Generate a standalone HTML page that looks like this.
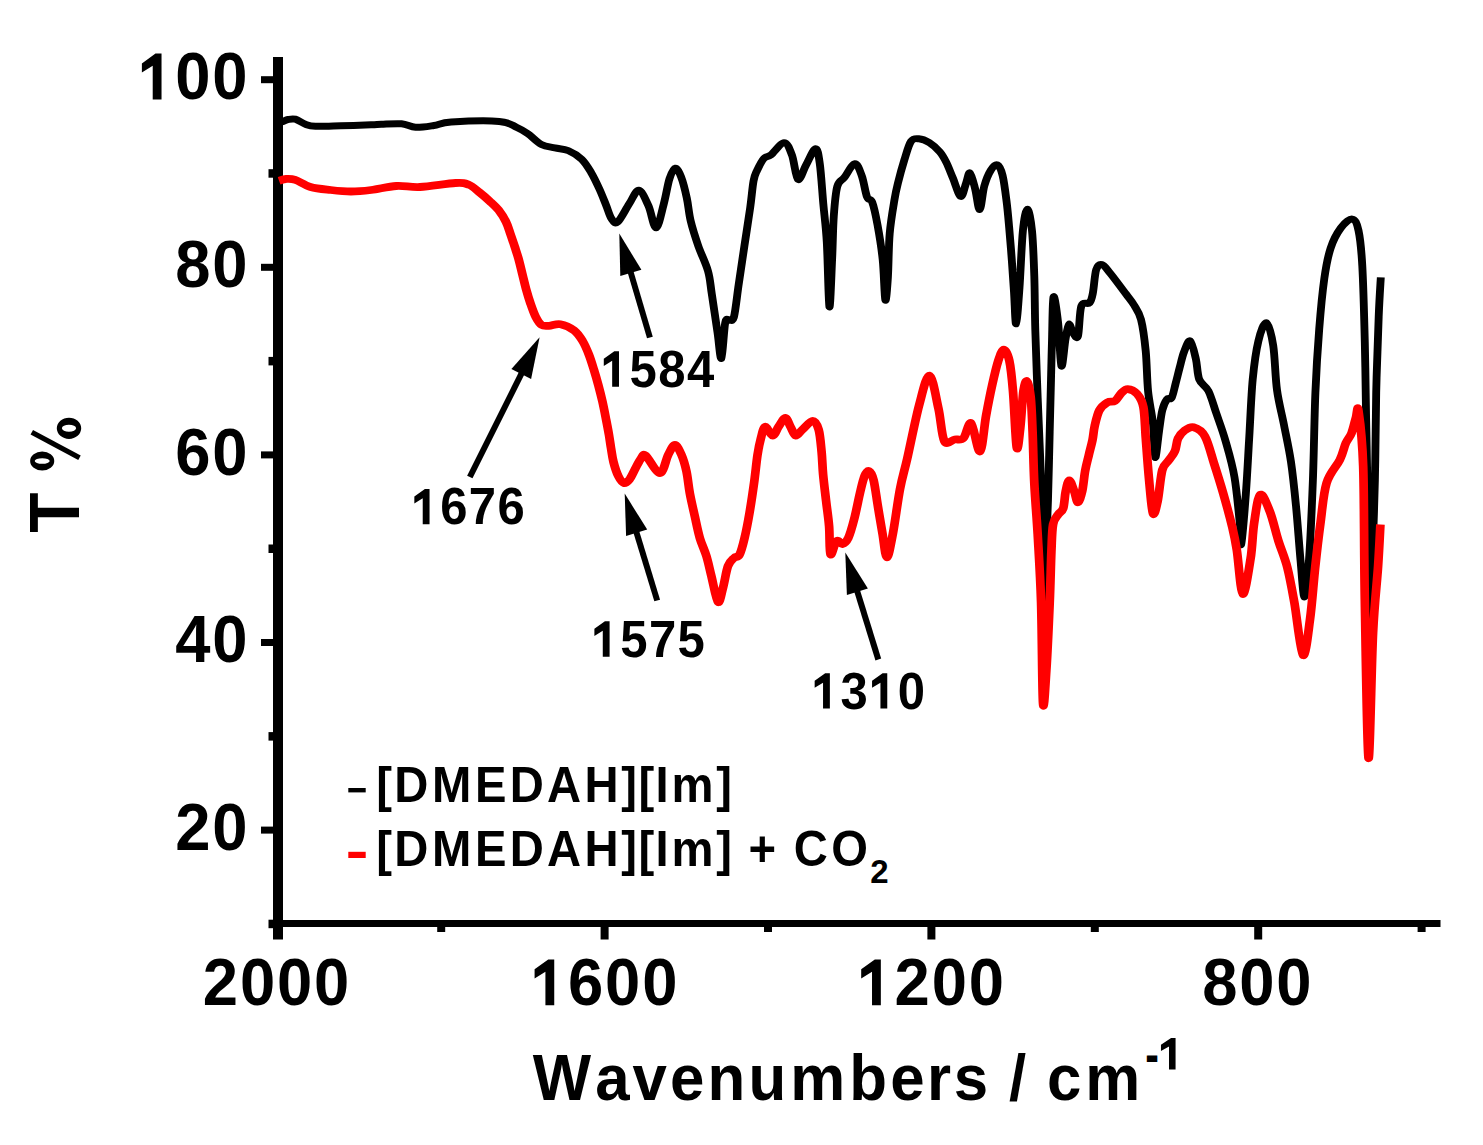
<!DOCTYPE html>
<html><head><meta charset="utf-8"><title>IR spectra</title>
<style>html,body{margin:0;padding:0;background:#fff;width:1483px;height:1145px;overflow:hidden}
svg{display:block}</style></head>
<body><svg width="1483" height="1145" viewBox="0 0 1483 1145">
<rect width="1483" height="1145" fill="#fff"/>
<rect x="273" y="57" width="10" height="882.5" fill="#000"/>
<rect x="273" y="920" width="1167.5" height="7" fill="#000"/>
<rect x="261" y="76.2" width="12" height="7" fill="#000"/>
<rect x="261" y="263.8" width="12" height="7" fill="#000"/>
<rect x="261" y="451.4" width="12" height="7" fill="#000"/>
<rect x="261" y="639.0" width="12" height="7" fill="#000"/>
<rect x="261" y="826.6" width="12" height="7" fill="#000"/>
<rect x="268.5" y="169.2" width="4.5" height="8.5" fill="#000"/>
<rect x="268.5" y="356.9" width="4.5" height="8.5" fill="#000"/>
<rect x="268.5" y="544.5" width="4.5" height="8.5" fill="#000"/>
<rect x="268.5" y="732.1" width="4.5" height="8.5" fill="#000"/>
<rect x="268.5" y="919.7" width="4.5" height="8.5" fill="#000"/>
<rect x="600.6" y="927" width="8" height="12.5" fill="#000"/>
<rect x="927.4" y="927" width="8" height="12.5" fill="#000"/>
<rect x="1254.2" y="927" width="8" height="12.5" fill="#000"/>
<rect x="437.2" y="927" width="8" height="5" fill="#000"/>
<rect x="764.0" y="927" width="8" height="5" fill="#000"/>
<rect x="1090.8" y="927" width="8" height="5" fill="#000"/>
<rect x="1417.6" y="927" width="8" height="5" fill="#000"/>
<text transform="scale(0.9596,1)" x="182.64 221.30" y="99.40" font-size="66.03" fill="#000" font-family="Liberation Sans" font-weight="bold">00</text><path transform="translate(138.17,99.40) scale(0.03094,-0.03224)" d="M470,0H755V1420H560L120,1117V834L470,1040Z" fill="#000"/>
<text transform="scale(0.9596,1)" x="182.64 221.30" y="287.00" font-size="66.03" fill="#000" font-family="Liberation Sans" font-weight="bold">80</text>
<text transform="scale(0.9596,1)" x="182.64 221.30" y="474.60" font-size="66.03" fill="#000" font-family="Liberation Sans" font-weight="bold">60</text>
<text transform="scale(0.9596,1)" x="182.64 221.30" y="662.20" font-size="66.03" fill="#000" font-family="Liberation Sans" font-weight="bold">40</text>
<text transform="scale(0.9596,1)" x="182.64 221.30" y="849.80" font-size="66.03" fill="#000" font-family="Liberation Sans" font-weight="bold">20</text>
<text transform="scale(0.9596,1)" x="211.38 250.04 288.69 327.35" y="1005.30" font-size="66.03" fill="#000" font-family="Liberation Sans" font-weight="bold">2000</text>
<text transform="scale(0.9596,1)" x="591.89 630.55 669.20" y="1005.30" font-size="66.03" fill="#000" font-family="Liberation Sans" font-weight="bold">600</text><path transform="translate(530.88,1005.30) scale(0.03094,-0.03224)" d="M470,0H755V1420H560L120,1117V834L470,1040Z" fill="#000"/>
<text transform="scale(0.9596,1)" x="932.24 970.90 1009.56" y="1005.30" font-size="66.03" fill="#000" font-family="Liberation Sans" font-weight="bold">200</text><path transform="translate(857.48,1005.30) scale(0.03094,-0.03224)" d="M470,0H755V1420H560L120,1117V834L470,1040Z" fill="#000"/>
<text transform="scale(0.9596,1)" x="1252.80 1291.45 1330.11" y="1005.30" font-size="66.03" fill="#000" font-family="Liberation Sans" font-weight="bold">800</text>
<text transform="translate(79,532.8) rotate(-90) scale(1,1.07)" font-size="66" font-family="Liberation Sans" font-weight="bold">T</text>
<path d="M81.2,428.3a12.2,10.65 0 1,0 -24.4,0a12.2,10.65 0 1,0 24.4,0ZM76.1,428.3a7.1,3.45 0 1,1 -14.2,0a7.1,3.45 0 1,1 14.2,0Z" fill="#000" fill-rule="evenodd"/>
<path d="M54.25,461a12.05,9.55 0 1,0 -24.1,0a12.05,9.55 0 1,0 24.1,0ZM49.7,461a7.5,2.85 0 1,1 -15,0a7.5,2.85 0 1,1 15,0Z" fill="#000" fill-rule="evenodd"/>
<line x1="31.8" y1="432.2" x2="79.5" y2="457.7" stroke="#000" stroke-width="5.2"/>
<text transform="scale(0.9534,1)" x="558.80 624.23 663.43 702.64 741.99 785.05 828.89 890.78 933.68 972.41 1000.31 1058.31 1098.27 1138.41" y="1100.20" font-size="64.85" fill="#000" font-family="Liberation Sans" font-weight="bold">Wavenumbers/cm</text>
<text transform="translate(1145.2,1072.9) scale(1,1.3)" font-size="41" font-family="Liberation Sans" font-weight="bold">-</text>
<path transform="translate(1158.2,1069.4) scale(0.0230,-0.0221)" d="M470,0H755V1420H560L120,1117V834L470,1040Z" fill="#000"/>
<text transform="scale(0.9596,1)" x="656.13 686.03 715.94" y="386.70" font-size="51.08" fill="#000" font-family="Liberation Sans" font-weight="bold">584</text><path transform="translate(600.92,386.70) scale(0.02394,-0.02494)" d="M470,0H755V1420H560L120,1117V834L470,1040Z" fill="#000"/>
<text transform="scale(0.9596,1)" x="458.70 488.61 518.51" y="524.30" font-size="51.08" fill="#000" font-family="Liberation Sans" font-weight="bold">676</text><path transform="translate(411.47,524.30) scale(0.02394,-0.02494)" d="M470,0H755V1420H560L120,1117V834L470,1040Z" fill="#000"/>
<text transform="scale(0.9596,1)" x="646.33 676.24 706.14" y="656.70" font-size="51.08" fill="#000" font-family="Liberation Sans" font-weight="bold">575</text><path transform="translate(591.52,656.70) scale(0.02394,-0.02494)" d="M470,0H755V1420H560L120,1117V834L470,1040Z" fill="#000"/>
<text transform="scale(0.9596,1)" x="875.88 935.69" y="708.60" font-size="51.08" fill="#000" font-family="Liberation Sans" font-weight="bold">30</text><path transform="translate(811.79,708.60) scale(0.02394,-0.02494)" d="M470,0H755V1420H560L120,1117V834L470,1040Z" fill="#000"/><path transform="translate(869.19,708.60) scale(0.02394,-0.02494)" d="M470,0H755V1420H560L120,1117V834L470,1040Z" fill="#000"/>
<line x1="630.3" y1="271.0" x2="649.9" y2="337.5" stroke="#000" stroke-width="6.0"/><polygon points="619.3,233.6 620.3,276.0 641.4,269.8" fill="#000"/>
<line x1="522.2" y1="372.2" x2="469.8" y2="477.0" stroke="#000" stroke-width="6.0"/><polygon points="539.6,337.3 511.4,369.1 531.1,378.9" fill="#000"/>
<line x1="636.0" y1="530.9" x2="657.2" y2="600.5" stroke="#000" stroke-width="6.0"/><polygon points="624.7,493.6 626.1,536.0 647.2,529.6" fill="#000"/>
<line x1="856.8" y1="589.8" x2="878.3" y2="659.5" stroke="#000" stroke-width="6.0"/><polygon points="845.3,552.5 846.9,594.9 867.9,588.4" fill="#000"/>
<rect x="348.3" y="788" width="17.4" height="4.4" fill="#000"/>
<rect x="348.3" y="851.8" width="17.4" height="6.2" fill="#ff0000"/>
<text transform="scale(0.9381,1)" x="400.95 420.34 460.57 506.24 543.28 583.23 623.18 662.16 680.58 698.87 715.76 763.57" y="801.70" font-size="50.34" fill="#000" font-family="Liberation Sans" font-weight="bold">[DMEDAH][Im]</text>
<text transform="scale(0.9381,1)" x="400.95 420.34 460.57 506.24 543.28 583.23 623.18 662.16 680.58 698.87 715.76 763.57 797.98 846.01 886.10" y="865.80" font-size="50.34" fill="#000" font-family="Liberation Sans" font-weight="bold">[DMEDAH][Im]+CO</text>
<text x="870.3" y="882.8" font-size="33" font-family="Liberation Sans" font-weight="bold">2</text>
<g transform="scale(1.1200,1)" fill="none" stroke-linejoin="round" stroke-linecap="butt">
<path d="M246.43,121.50C247.32,121.53 250.00,122.03 251.79,121.70C253.57,121.37 255.16,119.92 257.14,119.50C259.12,119.08 261.07,118.40 263.66,119.20C266.25,120.00 269.67,123.12 272.68,124.30C275.68,125.48 276.43,126.05 281.70,126.30C286.96,126.55 296.01,126.05 304.29,125.80C312.56,125.55 325.31,125.05 331.34,124.80C337.37,124.55 335.92,124.47 340.45,124.30C344.97,124.13 353.38,123.30 358.48,123.80C363.59,124.30 366.26,127.02 371.07,127.30C375.88,127.58 382.02,126.38 387.32,125.50C392.62,124.62 393.11,122.68 402.86,122.00C412.60,121.32 436.06,120.52 445.80,121.40C455.55,122.28 457.08,125.25 461.34,127.30C465.60,129.35 467.66,130.83 471.34,133.70C475.01,136.57 479.37,142.13 483.39,144.50C487.41,146.87 491.44,146.88 495.45,147.90C499.45,148.92 503.41,148.70 507.41,150.60C511.41,152.50 516.04,155.60 519.46,159.30C522.89,163.00 525.33,167.85 527.95,172.80C530.57,177.75 532.98,183.60 535.18,189.00C537.38,194.40 539.36,200.25 541.16,205.20C542.96,210.15 544.26,215.90 545.98,218.70C547.71,221.50 548.88,224.48 551.52,222.00C554.15,219.52 558.65,209.08 561.79,203.80C564.93,198.52 567.50,189.98 570.36,190.30C573.21,190.62 576.35,199.45 578.93,205.70C581.50,211.95 583.51,228.12 585.80,227.80C588.10,227.48 590.68,211.97 592.68,203.80C594.67,195.63 596.06,184.73 597.77,178.80C599.48,172.87 601.22,168.52 602.95,168.20C604.67,167.88 606.41,171.93 608.12,176.90C609.84,181.87 611.79,190.63 613.21,198.00C614.64,205.37 614.99,213.10 616.70,221.10C618.41,229.10 620.91,237.68 623.48,246.00C626.06,254.32 630.13,263.00 632.14,271.00C634.15,279.00 634.12,283.77 635.54,294.00C636.95,304.23 639.20,321.67 640.62,332.40C642.05,343.13 642.96,360.00 644.11,358.40C645.25,356.80 646.35,329.20 647.50,322.80C648.65,316.40 649.69,320.95 650.98,320.00C652.28,319.05 653.84,323.03 655.27,317.10C656.70,311.17 657.99,296.25 659.55,284.40C661.12,272.55 662.93,258.80 664.64,246.00C666.35,233.20 668.47,218.42 669.82,207.60C671.18,196.78 671.76,187.27 672.77,181.10C673.78,174.93 674.33,174.38 675.89,170.60C677.46,166.82 680.06,161.02 682.14,158.40C684.23,155.78 685.42,157.52 688.39,154.90C691.37,152.28 696.89,142.70 700.00,142.70C703.11,142.70 704.97,148.78 707.05,154.90C709.14,161.02 710.42,177.65 712.50,179.40C714.58,181.15 716.95,170.50 719.55,165.40C722.16,160.30 726.06,149.08 728.12,148.80C730.19,148.52 730.80,154.53 731.96,163.70C733.12,172.87 734.05,190.72 735.09,203.80C736.13,216.88 737.31,225.03 738.21,242.20C739.12,259.37 739.75,303.88 740.54,306.80C741.32,309.72 742.29,274.83 742.95,259.70C743.60,244.57 743.69,228.22 744.46,216.00C745.24,203.78 746.03,192.80 747.59,186.40C749.15,180.00 751.24,181.38 753.84,177.60C756.44,173.82 760.61,163.98 763.21,163.70C765.82,163.42 767.65,170.38 769.46,175.90C771.28,181.42 772.56,192.43 774.11,196.80C775.65,201.17 777.19,197.43 778.75,202.10C780.31,206.77 781.92,215.20 783.48,224.80C785.04,234.40 786.96,247.18 788.12,259.70C789.29,272.22 789.67,296.98 790.45,299.90C791.22,302.82 792.11,288.27 792.77,277.20C793.42,266.13 793.38,246.53 794.38,233.50C795.37,220.47 797.53,207.37 798.75,199.00C799.97,190.63 800.24,189.83 801.70,183.30C803.15,176.77 805.55,166.78 807.50,159.80C809.45,152.82 811.25,144.90 813.39,141.40C815.54,137.90 817.63,138.58 820.36,138.80C823.08,139.02 826.61,140.52 829.73,142.70C832.86,144.88 836.58,148.62 839.11,151.90C841.64,155.18 842.96,158.03 844.91,162.40C846.86,166.77 848.66,172.43 850.80,178.10C852.95,183.77 855.82,195.53 857.77,196.40C859.72,197.27 861.13,187.22 862.50,183.30C863.87,179.38 864.63,172.02 865.98,172.90C867.34,173.78 869.17,182.50 870.62,188.60C872.08,194.70 873.36,209.93 874.73,209.50C876.10,209.07 877.19,192.55 878.84,186.00C880.49,179.45 882.69,173.70 884.64,170.20C886.59,166.70 888.78,164.12 890.54,165.00C892.29,165.88 893.81,169.38 895.18,175.50C896.55,181.62 897.77,192.97 898.75,201.70C899.73,210.43 900.30,218.18 901.07,227.90C901.85,237.62 902.68,249.32 903.39,260.00C904.11,270.68 904.72,281.37 905.36,292.00C906.00,302.63 906.41,324.55 907.23,323.80C908.05,323.05 909.26,303.00 910.27,287.50C911.28,272.00 912.13,243.85 913.30,230.80C914.48,217.75 915.97,209.20 917.32,209.20C918.68,209.20 920.40,219.63 921.43,230.80C922.46,241.97 922.99,259.67 923.48,276.20C923.97,292.73 923.87,309.70 924.37,330.00C924.88,350.30 925.74,375.33 926.52,398.00C927.29,420.67 928.30,443.33 929.02,466.00C929.73,488.67 930.28,508.67 930.80,534.00C931.32,559.33 931.62,615.00 932.14,618.00C932.66,621.00 933.33,571.67 933.93,552.00C934.52,532.33 935.16,520.00 935.71,500.00C936.26,480.00 936.79,452.00 937.23,432.00C937.68,412.00 938.05,395.33 938.39,380.00C938.74,364.67 938.91,353.83 939.29,340.00C939.66,326.17 939.72,299.88 940.62,297.00C941.53,294.12 943.56,311.22 944.73,322.70C945.91,334.18 946.58,363.13 947.68,365.90C948.78,368.67 950.22,346.22 951.34,339.30C952.46,332.38 953.26,325.50 954.38,324.40C955.49,323.30 956.68,330.77 958.04,332.70C959.39,334.63 961.26,340.43 962.50,336.00C963.74,331.57 963.72,311.63 965.45,306.10C967.17,300.57 971.13,305.00 972.86,302.80C974.58,300.60 974.82,298.43 975.80,292.90C976.79,287.37 977.40,274.30 978.75,269.60C980.10,264.90 981.87,264.13 983.93,264.70C985.98,265.27 987.47,268.07 991.07,273.00C994.67,277.93 1001.96,288.97 1005.54,294.30C1009.11,299.63 1010.30,300.80 1012.50,305.00C1014.70,309.20 1017.01,311.85 1018.75,319.50C1020.49,327.15 1021.89,338.92 1022.95,350.90C1024.00,362.88 1024.02,379.40 1025.09,391.40C1026.16,403.40 1028.32,411.90 1029.38,422.90C1030.43,433.90 1030.51,456.10 1031.43,457.40C1032.35,458.70 1033.85,438.55 1034.91,430.70C1035.97,422.85 1036.59,415.53 1037.77,410.30C1038.94,405.07 1040.57,401.40 1041.96,399.30C1043.36,397.20 1044.88,400.32 1046.16,397.70C1047.44,395.08 1048.47,388.57 1049.64,383.60C1050.82,378.63 1051.96,373.17 1053.21,367.90C1054.46,362.63 1055.57,356.50 1057.14,352.00C1058.72,347.50 1060.91,339.72 1062.68,340.90C1064.45,342.08 1066.41,352.67 1067.77,359.10C1069.12,365.53 1068.94,374.20 1070.80,379.50C1072.66,384.80 1076.38,385.22 1078.93,390.90C1081.47,396.58 1083.53,405.27 1086.07,413.60C1088.62,421.93 1091.50,430.28 1094.20,440.90C1096.89,451.52 1100.04,462.90 1102.23,477.30C1104.42,491.70 1106.29,516.32 1107.32,527.30C1108.35,538.28 1107.54,548.88 1108.39,543.20C1109.24,537.52 1111.24,511.00 1112.41,493.20C1113.59,475.40 1114.43,455.35 1115.45,436.40C1116.46,417.45 1117.13,395.42 1118.48,379.50C1119.84,363.58 1121.53,350.37 1123.57,340.90C1125.61,331.43 1128.51,321.93 1130.71,322.70C1132.92,323.47 1135.21,334.28 1136.79,345.50C1138.36,356.72 1138.57,376.75 1140.18,390.00C1141.79,403.25 1144.35,413.00 1146.43,425.00C1148.51,437.00 1150.89,448.50 1152.68,462.00C1154.46,475.50 1155.73,489.67 1157.14,506.00C1158.56,522.33 1159.90,544.83 1161.16,560.00C1162.43,575.17 1163.47,597.00 1164.73,597.00C1166.00,597.00 1167.50,579.50 1168.75,560.00C1170.00,540.50 1171.28,507.92 1172.23,480.00C1173.18,452.08 1173.53,417.63 1174.46,392.50C1175.40,367.37 1176.53,348.18 1177.86,329.20C1179.18,310.22 1180.71,292.10 1182.41,278.60C1184.11,265.10 1185.58,256.63 1188.04,248.20C1190.49,239.77 1193.93,232.85 1197.14,228.00C1200.36,223.15 1204.69,218.68 1207.32,219.10C1209.96,219.52 1211.44,222.68 1212.95,230.50C1214.45,238.32 1215.40,247.43 1216.34,266.00C1217.28,284.57 1218.01,316.60 1218.57,341.90C1219.14,367.20 1219.36,394.78 1219.73,417.80C1220.10,440.82 1220.45,454.63 1220.80,480.00C1221.16,505.37 1221.47,545.83 1221.87,570.00C1222.28,594.17 1222.69,625.00 1223.21,625.00C1223.74,625.00 1224.27,594.17 1225.00,570.00C1225.73,545.83 1226.96,509.58 1227.59,480.00C1228.21,450.42 1228.18,419.73 1228.75,392.50C1229.32,365.27 1230.30,335.80 1230.98,316.60C1231.67,297.40 1232.54,283.85 1232.86,277.30" stroke="#000" stroke-width="7.00"/>
<path d="M249.20,180.90C250.22,180.58 252.95,179.17 255.36,179.00C257.77,178.83 260.01,178.57 263.66,179.90C267.31,181.23 271.96,185.32 277.23,187.00C282.50,188.68 289.26,189.25 295.27,190.00C301.28,190.75 307.29,191.50 313.30,191.50C319.32,191.50 324.57,190.92 331.34,190.00C338.11,189.08 346.65,186.50 353.93,186.00C361.21,185.50 366.19,187.50 375.00,187.00C383.81,186.50 399.51,183.37 406.79,183.00C414.06,182.63 415.13,183.25 418.66,184.80C422.19,186.35 424.85,189.57 427.95,192.30C431.04,195.03 434.36,198.23 437.23,201.20C440.10,204.17 442.75,206.65 445.18,210.10C447.60,213.55 450.03,217.95 451.79,221.90C453.54,225.85 454.39,229.58 455.71,233.80C457.04,238.02 458.51,243.00 459.73,247.20C460.95,251.40 461.93,254.55 463.04,259.00C464.14,263.45 465.24,268.95 466.34,273.90C467.44,278.85 468.42,283.77 469.64,288.70C470.86,293.63 472.22,298.80 473.66,303.50C475.10,308.20 476.65,313.32 478.30,316.90C479.96,320.48 481.59,323.52 483.57,325.00C485.55,326.48 487.38,325.92 490.18,325.80C492.98,325.68 496.61,323.52 500.36,324.30C504.11,325.08 509.38,327.72 512.68,330.50C515.98,333.28 517.99,336.98 520.18,341.00C522.37,345.02 524.09,349.70 525.80,354.60C527.51,359.50 529.05,365.33 530.45,370.40C531.85,375.47 532.95,379.77 534.20,385.00C535.45,390.23 536.77,395.97 537.95,401.80C539.12,407.63 540.28,414.47 541.25,420.00C542.22,425.53 543.04,430.33 543.75,435.00C544.46,439.67 544.87,443.50 545.54,448.00C546.21,452.50 546.68,457.33 547.77,462.00C548.85,466.67 550.51,472.50 552.05,476.00C553.60,479.50 555.39,482.43 557.05,483.00C558.72,483.57 560.39,481.73 562.05,479.40C563.72,477.07 565.39,472.40 567.05,469.00C568.72,465.60 570.49,461.23 572.05,459.00C573.62,456.77 573.57,453.23 576.43,455.60C579.29,457.97 585.83,473.32 589.20,473.20C592.56,473.08 594.38,459.62 596.61,454.90C598.84,450.18 600.61,444.90 602.59,444.90C604.57,444.90 606.76,450.47 608.48,454.90C610.21,459.33 611.71,465.13 612.95,471.50C614.18,477.87 614.66,485.63 615.89,493.10C617.13,500.57 618.87,508.83 620.36,516.30C621.85,523.77 623.10,531.27 624.82,537.90C626.55,544.53 628.99,549.73 630.71,556.10C632.44,562.47 633.45,568.45 635.18,576.10C636.90,583.75 639.35,600.07 641.07,602.00C642.80,603.93 644.05,593.68 645.54,587.70C647.02,581.72 648.36,571.05 650.00,566.10C651.64,561.15 653.63,559.93 655.36,558.00C657.08,556.07 658.78,557.85 660.36,554.50C661.93,551.15 663.35,544.82 664.82,537.90C666.29,530.98 667.77,522.32 669.20,513.00C670.62,503.68 672.20,491.67 673.39,482.00C674.58,472.33 675.36,462.23 676.34,455.00C677.32,447.77 678.14,443.32 679.29,438.60C680.43,433.88 681.44,427.20 683.21,426.70C684.99,426.20 687.92,435.60 689.91,435.60C691.90,435.60 693.30,429.67 695.18,426.70C697.05,423.73 699.39,417.80 701.16,417.80C702.93,417.80 704.26,423.73 705.80,426.70C707.35,429.67 708.69,435.10 710.45,435.60C712.20,436.10 713.81,432.17 716.34,429.70C718.87,427.23 723.18,420.80 725.62,420.80C728.07,420.80 729.66,424.52 730.98,429.70C732.31,434.88 732.92,444.48 733.57,451.90C734.23,459.32 734.24,466.03 734.91,474.20C735.58,482.37 736.70,492.23 737.59,500.90C738.48,509.57 739.61,517.28 740.27,526.20C740.92,535.12 740.42,551.93 741.52,554.40C742.62,556.87 745.10,542.73 746.87,541.00C748.65,539.27 750.39,544.50 752.14,544.00C753.90,543.50 755.64,542.22 757.41,538.00C759.18,533.78 761.00,526.37 762.77,518.70C764.54,511.03 766.49,499.17 768.04,492.00C769.58,484.83 770.73,479.17 772.05,475.70C773.38,472.23 774.66,470.47 775.98,471.20C777.31,471.93 778.68,474.15 780.00,480.10C781.32,486.05 782.60,497.98 783.93,506.90C785.25,515.82 786.62,525.20 787.95,533.60C789.27,542.00 790.33,557.30 791.87,557.30C793.42,557.30 795.28,544.97 797.23,533.60C799.18,522.23 801.44,501.57 803.57,489.10C805.70,476.63 807.16,472.77 810.00,458.80C812.84,444.83 817.31,419.17 820.62,405.30C823.94,391.43 827.04,375.10 829.91,375.60C832.78,376.10 835.65,397.40 837.86,408.30C840.06,419.20 840.70,435.80 843.12,441.00C845.55,446.20 849.54,440.00 852.41,439.50C855.28,439.00 857.92,440.72 860.36,438.00C862.80,435.28 864.61,420.97 867.05,423.20C869.49,425.43 872.77,452.68 875.00,451.40C877.23,450.12 878.63,426.57 880.45,415.50C882.26,404.43 884.08,394.15 885.89,385.00C887.71,375.85 889.61,366.50 891.34,360.60C893.07,354.70 894.61,349.60 896.25,349.60C897.89,349.60 899.79,353.68 901.16,360.60C902.53,367.52 903.36,376.65 904.46,391.10C905.57,405.55 906.68,441.18 907.77,447.30C908.85,453.42 909.99,437.17 910.98,427.80C911.98,418.43 912.75,398.85 913.75,391.10C914.75,383.35 915.88,380.28 916.96,381.30C918.05,382.32 919.43,388.75 920.27,397.20C921.10,405.65 921.43,417.70 921.96,432.00C922.50,446.30 922.72,465.90 923.48,483.00C924.24,500.10 925.51,514.63 926.52,534.60C927.53,554.57 928.76,574.73 929.55,602.80C930.34,630.87 930.48,691.63 931.25,703.00C932.02,714.37 933.20,687.70 934.20,671.00C935.19,654.30 936.47,622.70 937.23,602.80C937.99,582.90 938.24,564.68 938.75,551.60C939.26,538.52 939.26,530.48 940.27,524.30C941.28,518.12 943.32,517.15 944.82,514.50C946.32,511.85 948.17,512.27 949.29,508.40C950.40,504.53 950.61,495.98 951.52,491.30C952.43,486.62 953.47,480.30 954.73,480.30C956.00,480.30 957.83,487.63 959.11,491.30C960.39,494.97 961.22,502.30 962.41,502.30C963.60,502.30 965.16,496.58 966.25,491.30C967.34,486.02 967.93,476.70 968.93,470.60C969.93,464.50 971.15,459.80 972.23,454.70C973.32,449.60 974.58,444.78 975.45,440.00C976.31,435.22 976.38,430.95 977.41,426.00C978.44,421.05 979.73,414.23 981.61,410.30C983.48,406.37 986.32,403.97 988.66,402.40C991.00,400.83 993.53,402.47 995.62,400.90C997.72,399.33 999.38,394.97 1001.25,393.00C1003.12,391.03 1004.54,388.97 1006.88,389.10C1009.21,389.23 1012.93,390.80 1015.27,393.80C1017.60,396.80 1019.60,399.63 1020.89,407.10C1022.19,414.57 1022.22,426.80 1023.04,438.60C1023.85,450.40 1024.75,465.47 1025.80,477.90C1026.86,490.33 1028.08,509.28 1029.38,513.20C1030.67,517.12 1032.17,508.60 1033.57,501.40C1034.97,494.20 1036.13,476.80 1037.77,470.00C1039.40,463.20 1041.52,463.75 1043.39,460.60C1045.27,457.45 1047.62,454.77 1049.02,451.10C1050.42,447.43 1050.39,442.00 1051.79,438.60C1053.18,435.20 1055.09,432.58 1057.41,430.70C1059.73,428.82 1062.63,426.35 1065.71,427.30C1068.79,428.25 1072.84,430.35 1075.89,436.40C1078.94,442.45 1081.31,454.13 1084.02,463.60C1086.73,473.07 1089.43,482.58 1092.14,493.20C1094.85,503.82 1098.24,517.83 1100.27,527.30C1102.29,536.77 1102.72,538.88 1104.29,550.00C1105.85,561.12 1107.59,592.58 1109.64,594.00C1111.70,595.42 1114.93,570.23 1116.61,558.50C1118.29,546.77 1118.30,534.22 1119.73,523.60C1121.16,512.98 1122.84,496.83 1125.18,494.80C1127.51,492.77 1131.03,503.68 1133.75,511.40C1136.47,519.12 1138.91,531.78 1141.52,541.10C1144.12,550.42 1147.02,557.12 1149.37,567.30C1151.73,577.48 1153.29,587.58 1155.62,602.20C1157.96,616.82 1161.06,652.10 1163.39,655.00C1165.73,657.90 1167.83,634.22 1169.64,619.60C1171.46,604.98 1172.74,583.30 1174.29,567.30C1175.83,551.30 1177.23,537.65 1178.93,523.60C1180.62,509.55 1181.56,493.63 1184.46,483.00C1187.37,472.37 1193.48,466.43 1196.34,459.80C1199.20,453.17 1199.88,447.63 1201.61,443.20C1203.33,438.77 1205.19,437.43 1206.70,433.20C1208.20,428.97 1209.58,421.50 1210.62,417.80C1211.67,414.10 1211.86,402.90 1212.95,411.00C1214.03,419.10 1216.21,435.03 1217.14,466.40C1218.08,497.77 1217.78,550.60 1218.57,599.20C1219.36,647.80 1220.64,752.47 1221.87,758.00C1223.11,763.53 1224.55,664.40 1225.98,632.40C1227.41,600.40 1229.36,583.98 1230.45,566.00C1231.53,548.02 1232.16,531.42 1232.50,524.50" stroke="#ff0000" stroke-width="7.80"/>
</g>
</svg></body></html>
